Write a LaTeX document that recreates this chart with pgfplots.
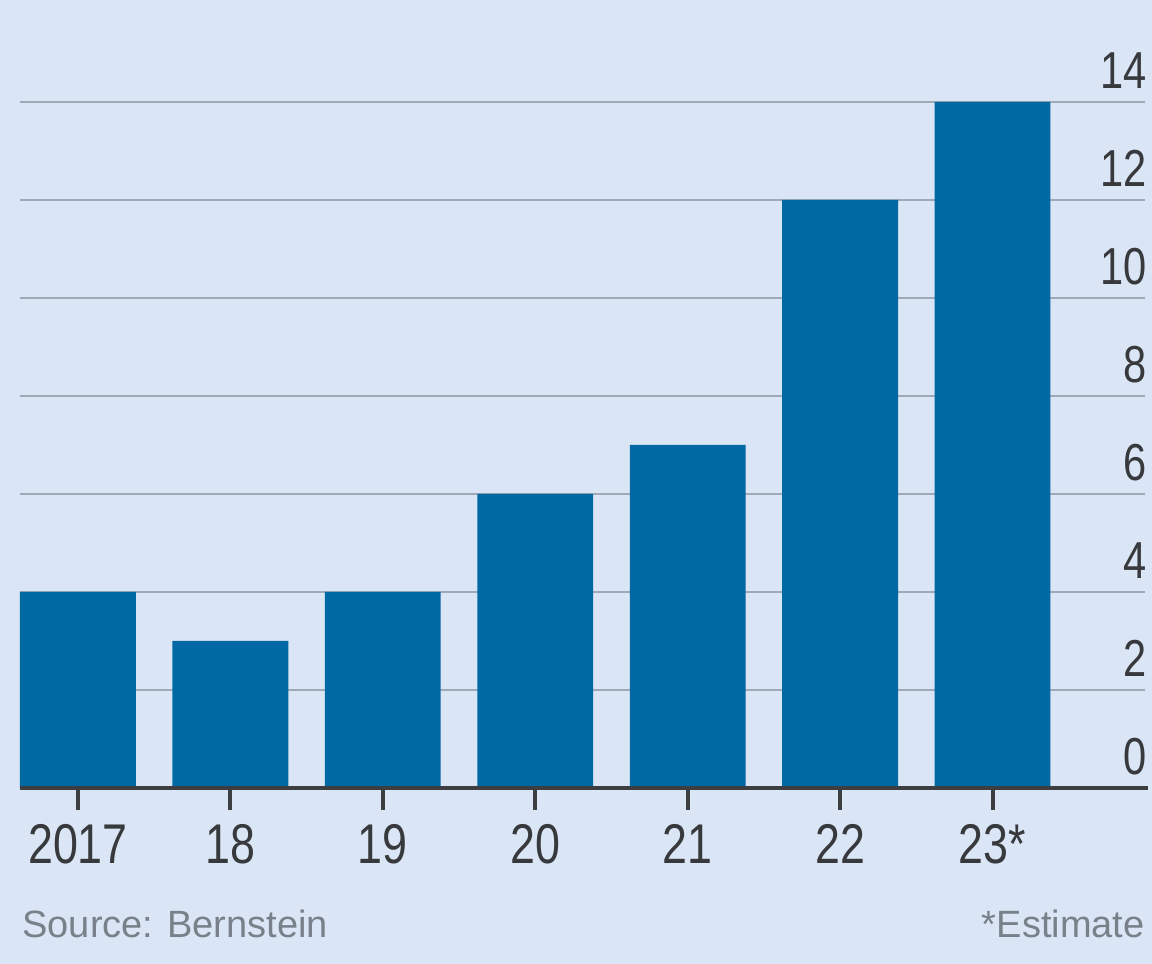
\documentclass[border=0pt]{standalone}
\usepackage{pgfplots}
\pgfplotsset{compat=1.18}
\usepackage{fontspec}
\setmainfont{Liberation Sans}
\newfontfamily\narrowfont[FakeStretch=0.8]{Liberation Sans}
\definecolor{bgcol}{RGB}{218,230,245}
\definecolor{barcol}{RGB}{0,105,163}
\definecolor{gridcol}{RGB}{160,170,182}
\definecolor{axcol}{RGB}{60,62,66}
\definecolor{txtcol}{RGB}{55,57,60}
\definecolor{srccol}{RGB}{120,128,138}
\begin{document}
\begin{tikzpicture}
\useasboundingbox (-10pt,-88pt) rectangle (566pt,394pt);
\fill[bgcol] (-10pt,-88pt) rectangle (566pt,394pt);
\begin{axis}[
  at={(0,0)}, anchor=south west,
  scale only axis,
  width=562.5pt, height=343pt,
  xmin=-0.38, xmax=7.0,
  ymin=0, ymax=14,
  axis line style={draw=none},
  xtick={0,1,2,3,4,5,6},
  xticklabels={2017,18,19,20,21,22,23*},
  xtick pos=bottom,
  ytick={0,2,4,6,8,10,12,14},
  yticklabel pos=right,
  /pgf/number format/assume math mode=true,
  ymajorgrids,
  grid style={gridcol, line width=1.4pt},
  tick align=outside,
  major tick length=11pt,
  xtick style={axcol, line width=2pt},
  ytick style={draw=none},
  xticklabel style={font=\narrowfont\fontsize{28}{30}\selectfont, text=txtcol, anchor=base, yshift=-26.5pt, inner sep=0pt},
  yticklabel style={font=\narrowfont\fontsize{26}{28}\selectfont, text=txtcol, anchor=base east, yshift=6.5pt, xshift=-10pt, inner sep=0pt},
  clip=false,
]
\addplot[ybar, bar width=0.76, fill=barcol, draw=none] coordinates {
  (0,4) (1,3) (2,4) (3,6) (4,7) (5,12) (6,14)
};
\draw[axcol, line width=2pt] (rel axis cs:0,0) -- ([xshift=1.5pt]rel axis cs:1,0);
\end{axis}
\node[anchor=base west, inner sep=0pt, text=srccol, font=\fontsize{19}{21}\selectfont] at (1pt,-74.5pt) {Source: Bernstein};
\node[anchor=base east, inner sep=0pt, text=srccol, font=\fontsize{19}{21}\selectfont] at (562.5pt,-74.5pt) {*Estimate};
\end{tikzpicture}
\end{document}
